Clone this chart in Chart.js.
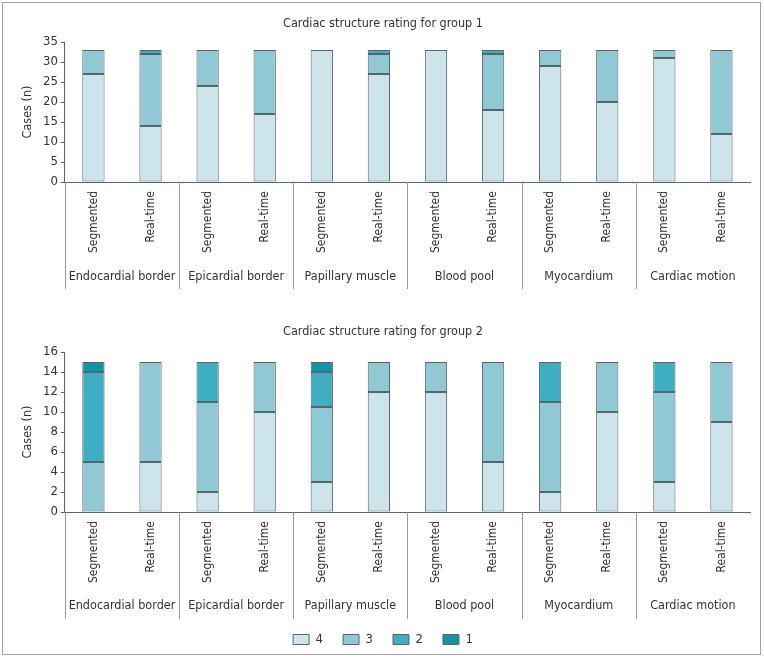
<!DOCTYPE html>
<html>
<head>
<meta charset="utf-8">
<script src="https://cdn.jsdelivr.net/npm/chart.js@4/dist/chart.umd.min.js"></script>
<style>
  body { margin: 0; background: #fff; }
  #wrap { position: relative; width: 764px; height: 658px; }
  #frame { position: absolute; left: 2px; top: 2px; width: 759px; height: 653px; border: 1.5px solid #a3a3a3; box-sizing: border-box; }
  #top { position: absolute; left: 0; top: 0; }
  #bottom { position: absolute; left: 0; top: 300px; }
</style>
</head>
<body>
<div id="wrap">
  <div id="frame"></div>
  <canvas id="top" width="764" height="300"></canvas>
  <canvas id="bottom" width="764" height="358"></canvas>
</div>
<script>
const methods = ['Segmented', 'Real-time', 'Segmented', 'Real-time', 'Segmented', 'Real-time',
                 'Segmented', 'Real-time', 'Segmented', 'Real-time', 'Segmented', 'Real-time'];
const structures = ['Endocardial border', 'Epicardial border', 'Papillary muscle', 'Blood pool', 'Myocardium', 'Cardiac motion'];
const ratings = ['4', '3', '2', '1'];

// group 1 (n = 33), rating counts per bar
const g1Rating4 = [27, 14, 24, 17, 33, 27, 33, 18, 29, 20, 31, 12];
const g1Rating3 = [6, 18, 9, 16, 0, 5, 0, 14, 4, 13, 2, 21];
const g1Rating2 = [0, 1, 0, 0, 0, 1, 0, 1, 0, 0, 0, 0];
const g1Rating1 = [0, 0, 0, 0, 0, 0, 0, 0, 0, 0, 0, 0];

// group 2 (n = 15)
const g2Rating4 = [0, 5, 2, 10, 3, 12, 12, 5, 2, 10, 3, 9];
const g2Rating3 = [5, 10, 9, 5, 7.5, 3, 3, 10, 9, 5, 9, 6];
const g2Rating2 = [9, 0, 4, 0, 3.5, 0, 0, 0, 4, 0, 3, 0];
const g2Rating1 = [1, 0, 0, 0, 1, 0, 0, 0, 0, 0, 0, 0];

const colors = ['#cce4ea', '#90c8d4', '#3eaec2', '#0c96a8'];
const font = "'DejaVu Sans Condensed', 'Liberation Sans Narrow', sans-serif";
const textColor = '#333';
const lineColor = '#56666a';

Chart.defaults.font.family = font;
Chart.defaults.font.size = 13;
Chart.defaults.color = textColor;

// vertical separators between the structure groups
const separators = {
    id: 'separators',
    afterDraw(chart) {
        const x = chart.scales.x;
        const x2 = chart.scales.x2;
        const ctx = chart.ctx;
        const end = x2.top + 35;
        ctx.save();
        ctx.strokeStyle = '#9a9a9a';
        ctx.lineWidth = 1;
        const xs = [chart.chartArea.left];
        for (let i = 2; i < methods.length; i += 2) {
            xs.push((x.getPixelForValue(i - 1) + x.getPixelForValue(i)) / 2);
        }
        xs.forEach(px => {
            ctx.beginPath();
            ctx.moveTo(Math.round(px) + 0.5, chart.chartArea.bottom);
            ctx.lineTo(Math.round(px) + 0.5, end);
            ctx.stroke();
        });
        ctx.restore();
    }
};

function makeChart(canvas, title, series, yMax, yStep, showLegend, titlePad, groupAxis, bottomPad) {
    return new Chart(document.getElementById(canvas), {
        type: 'bar',
        data: {
            labels: methods,
            datasets: series.map((values, i) => ({
                label: ratings[i],
                data: values.map(v => v || null),
                backgroundColor: colors[i],
                borderColor: lineColor,
                borderWidth: 1,
                borderSkipped: false,
                barPercentage: 0.39,
                categoryPercentage: 1
            }))
        },
        options: {
            responsive: false,
            animation: false,
            layout: { padding: { left: 16, right: 14, top: 0, bottom: bottomPad } },
            scales: {
                x: {
                    stacked: true,
                    grid: { display: false, drawTicks: false },
                    border: { display: true, color: lineColor },
                    ticks: { minRotation: 90, maxRotation: 90, autoSkip: false, padding: 9, color: textColor, font: { size: 12 } },
                    afterFit(scale) { scale.height = 72; }
                },
                x2: {
                    type: 'category',
                    labels: structures,
                    position: 'bottom',
                    offset: true,
                    grid: { display: false, drawTicks: false },
                    border: { display: false },
                    ticks: { minRotation: 0, maxRotation: 0, autoSkip: false, padding: groupAxis.padding, color: textColor, font: { size: 12.5 } },
                    afterFit(scale) { scale.height = groupAxis.height; }
                },
                y: {
                    stacked: true,
                    min: 0,
                    max: yMax,
                    ticks: { stepSize: yStep, autoSkip: false, padding: 3, color: textColor },
                    grid: { drawOnChartArea: false, tickLength: 4, color: lineColor },
                    border: { color: lineColor },
                    title: { display: true, text: 'Cases (n)', color: textColor, font: { size: 12.5 }, padding: { top: 4, bottom: 5 } }
                }
            },
            plugins: {
                title: {
                    display: true,
                    text: title,
                    color: textColor,
                    font: { size: 12.5, weight: 'normal' },
                    padding: titlePad
                },
                legend: {
                    display: showLegend,
                    position: 'bottom',
                    labels: { boxWidth: 16, boxHeight: 10, padding: 20, color: textColor }
                },
                tooltip: { enabled: false }
            }
        },
        plugins: [separators]
    });
}

makeChart('top', 'Cardiac structure rating for group 1', [g1Rating4, g1Rating3, g1Rating2, g1Rating1],
    35, 5, false, { top: 16, bottom: 11 }, { height: 36, padding: 15 }, 10);
makeChart('bottom', 'Cardiac structure rating for group 2', [g2Rating4, g2Rating3, g2Rating2, g2Rating1],
    16, 2, true, { top: 24, bottom: 13 }, { height: 29, padding: 14 }, 2);
</script>
</body>
</html>
